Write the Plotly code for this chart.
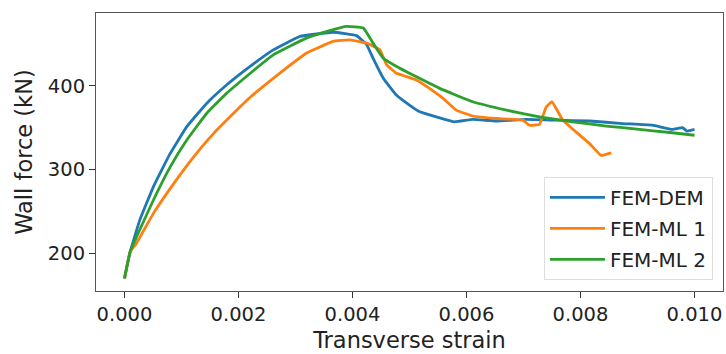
import plotly.graph_objects as go

# FEM-DEM
dem_x = [0, 0.0001, 0.00027, 0.00051, 0.0008, 0.00109, 0.00144, 0.00179, 0.00214, 0.00261,
         0.00308, 0.00366, 0.00407, 0.00425, 0.00436, 0.00454, 0.00477, 0.005, 0.00518, 0.00547,
         0.00579, 0.00611, 0.00652, 0.00705, 0.00757, 0.00816, 0.00874, 0.00926, 0.00961, 0.00979,
         0.00987, 0.01]
dem_y = [170, 202, 240, 280, 319, 351, 379, 401, 420, 443,
         459, 464, 460, 449, 433, 409, 389, 377, 369, 363,
         357, 360, 358, 360, 359, 358, 355, 353, 348, 350,
         346, 348]

# FEM-ML 1
ml1_x = [0, 0.0001, 0.0002, 0.00051, 0.00086, 0.00121, 0.00156, 0.00191, 0.0022, 0.00261,
         0.00319, 0.00366, 0.00395, 0.00425, 0.00448, 0.0046, 0.00477, 0.00495, 0.00512, 0.00535,
         0.00559, 0.00582, 0.00611, 0.00652, 0.00699, 0.0071, 0.00728, 0.0074, 0.0075, 0.00769,
         0.00792, 0.00816, 0.00836, 0.00854]
ml1_y = [170, 202, 211, 248, 283, 315, 343, 367, 386, 409,
         439, 453, 455, 451, 443, 425, 415, 411, 407, 397,
         385, 371, 364, 361, 359, 353, 354, 375, 381, 359,
         345, 331, 317, 320]

# FEM-ML 2
ml2_x = [0, 0.0001, 0.00051, 0.0008, 0.00109, 0.00144, 0.00179, 0.00217, 0.00261, 0.00319,
         0.0036, 0.00389, 0.00419, 0.00436, 0.00454, 0.00483, 0.00506, 0.00553, 0.00611, 0.0067,
         0.00728, 0.00786, 0.00845, 0.00903, 0.00961, 0.01]
ml2_y = [170, 202, 264, 303, 335, 367, 391, 413, 437, 457,
         466, 471, 469, 451, 433, 421, 413, 397, 381, 371,
         363, 357, 352, 348, 344, 341]

x_ticks = [0.0, 0.002, 0.004, 0.006, 0.008, 0.010]
x_tick_labels = ["0.000", "0.002", "0.004", "0.006", "0.008", "0.010"]
y_ticks = [200, 300, 400]
y_tick_labels = ["200", "300", "400"]

series = [
    ("FEM-DEM", dem_x, dem_y, "#1f77b4"),
    ("FEM-ML 1", ml1_x, ml1_y, "#ff7f0e"),
    ("FEM-ML 2", ml2_x, ml2_y, "#2ca02c"),
]

fig = go.Figure()
for name, xs, ys, col in series:
    fig.add_trace(go.Scatter(x=xs, y=ys, mode="lines", name=name, legendgroup=name,
                             line=dict(color=col, width=2.8, shape="spline", smoothing=0.3)))

font_family = "DejaVu Sans"
axis_common = dict(
    showline=True, linecolor="#555", linewidth=1, mirror=True,
    showgrid=False, zeroline=False,
    ticks="outside", ticklen=6, tickwidth=1, tickcolor="#333",
    tickfont=dict(family=font_family, size=19.5, color="#222"),
)

fig.update_layout(
    width=726, height=354,
    margin=dict(l=96, r=3, t=13, b=63),
    paper_bgcolor="white", plot_bgcolor="white",
    font=dict(family=font_family, color="#222"),
    xaxis=dict(range=[-0.0005, 0.0105], tickvals=x_ticks, ticktext=x_tick_labels,
               title=dict(text="Transverse strain", font=dict(size=22.5, family=font_family), standoff=6),
               automargin=False, **axis_common),
    yaxis=dict(range=[155, 487], tickvals=y_ticks, ticktext=y_tick_labels,
               title=dict(text="Wall force (kN)", font=dict(size=22.5, family=font_family), standoff=8),
               automargin=False, **axis_common),
    legend=dict(x=0.984, xanchor="right", y=0.04, yanchor="bottom",
                bgcolor="white", bordercolor="#dddddd", borderwidth=1,
                font=dict(family=font_family, size=20, color="#222"),
                itemwidth=55, tracegroupgap=2),
    showlegend=True,
)

fig.write_html("out.html")
